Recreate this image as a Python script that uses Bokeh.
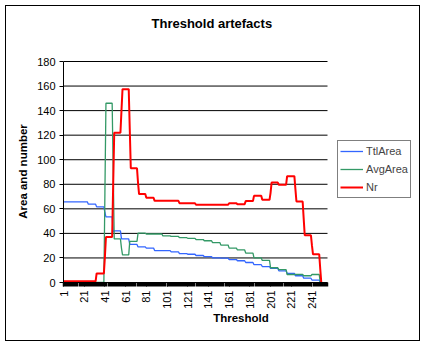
import math
from bokeh.plotting import figure
from bokeh.models import FixedTicker, Legend, LegendItem, Title, Range1d
from bokeh.embed import file_html
from bokeh.resources import INLINE

# Thresholds where each 8-wide step starts
block_start = [1, 9, 17, 25, 33, 41, 49, 57, 65, 73, 81, 89, 97, 105, 113, 121,
               129, 137, 145, 153, 161, 169, 177, 185, 193, 201, 209, 217, 225, 233, 241]
ttl_area = [65.7, 65.7, 65.7, 63.8, 61.6, 53.5, 42, 35.5, 31, 29, 28, 26, 26, 25, 23.5, 23,
            22, 21, 20, 19.8, 18.7, 17.7, 16.3, 14.5, 13, 11.5, 9.5, 7.5, 5.5, 3.5, 2]
avg_area = [0, 0, 0, 0, 0, 146, 35.5, 22.5, 33.5, 40.2, 39.5, 39.5, 38, 37.5, 36.5, 36,
            35, 34, 32.5, 30.5, 28, 26.5, 24, 20, 18, 12, 10.5, 6.5, 6.5, 5.5, 6.5]
nr = [1, 1, 1, 1, 7.4, 37, 122, 157.5, 93, 72, 69, 66.5, 66.5, 66.5, 64.6, 64.6,
      63.3, 63.3, 63.3, 63.3, 64.6, 63.8, 66.3, 70.6, 67.3, 81.4, 79.6, 86.6, 66, 38.5, 23]

# single-threshold transition values at the first threshold of a step
ttl_trans_at = [41, 49]
ttl_trans_val = [57, 41]
avg_trans_at = [41, 49, 57]
avg_trans_val = [73, 91, 28]
nr_trans_at = [41, 49, 57, 65, 73, 201, 225, 233, 241]
nr_trans_val = [21, 80, 140, 125, 81, 73, 76, 52, 30]

# tail values at thresholds 249, 250
tail_at = [249, 250]
ttl_tail = [0, 0]
avg_tail = [0, 0]
nr_tail = [11, 0]

x_tick_labels = ["1", "21", "41", "61", "81", "101", "121", "141", "161", "181", "201", "221", "241"]
y_ticks = [0, 20, 40, 60, 80, 100, 120, 140, 160, 180]
X_MIN, X_MAX = 1, 256      # category axis extent
Y_MIN, Y_MAX = 0, 180


def expand(blocks, t_at, t_val, tail):
    xs, ys = [], []
    for s, v in zip(block_start, blocks):
        for k in range(8):
            xs.append(s + k)
            ys.append(v)
    for a, v in zip(t_at, t_val):
        ys[xs.index(a)] = v
    xs += tail_at
    ys += tail
    return xs, ys


FONT = "Liberation Sans"
W, H = 425, 346
BL, BR, BT, BB = 63, 7, 60, 64
axis_px = 264.0  # pixel length of the category axis
frame_w = W - BL - BR
x_end = X_MIN + (X_MAX - X_MIN) * frame_w / axis_px
frame_h = H - BT - BB
y_end = Y_MAX * frame_h / 221.0

p = figure(width=W, height=H, x_range=Range1d(X_MIN, x_end), y_range=Range1d(Y_MIN, y_end),
           output_backend="svg", toolbar_location=None,
           min_border_left=BL, min_border_right=BR, min_border_top=BT, min_border_bottom=BB)
# transparent canvas so that the host's inset shadow (outer chart border) shows through
p.background_fill_color = None
p.border_fill_color = None
p.outline_line_color = None
border_css = {"background-color": "white",
              "box-shadow": "inset 0 0 0 5px white, inset 0 0 0 6px black"}
p.styles = border_css
p.stylesheets = [":host { background-color: white; "
                 "box-shadow: inset 0 0 0 5px white, inset 0 0 0 6px black; }"]

# spacer between title and plot, then the title itself
p.add_layout(Title(text=" ", text_font_size="21px", standoff=0), "above")
title = Title(text="Threshold artefacts", align="left", offset=88,
              text_font=FONT, text_font_size="13px", text_font_style="bold",
              text_color="black")
p.add_layout(title, "above")

# horizontal gridlines limited to the axis extent
p.segment(x0=[X_MIN] * len(y_ticks), y0=y_ticks, x1=[X_MAX] * len(y_ticks), y1=y_ticks,
          line_color="black", line_width=1)

xs, ys = expand(ttl_area, ttl_trans_at, ttl_trans_val, ttl_tail)
r1 = p.line(xs, ys, line_color="#3366ff", line_width=1.3)
xs, ys = expand(avg_area, avg_trans_at, avg_trans_val, avg_tail)
r2 = p.line(xs, ys, line_color="#339966", line_width=1.3)
xs, ys = expand(nr, nr_trans_at, nr_trans_val, nr_tail)
r3 = p.line(xs, ys, line_color="#ff0000", line_width=2)

p.xgrid.visible = False
p.ygrid.visible = False

label_pos = [int(t) for t in x_tick_labels]
p.xaxis.ticker = FixedTicker(ticks=label_pos, minor_ticks=list(range(X_MIN, X_MAX + 1)))
p.xaxis.bounds = (X_MIN, X_MAX)
p.xaxis.major_label_orientation = math.pi / 2
p.xaxis.major_tick_out = 4
p.xaxis.major_tick_in = 0
p.xaxis.minor_tick_out = 4
p.xaxis.minor_tick_in = 0
p.xaxis.minor_tick_line_width = 1.5
p.xaxis.minor_tick_line_color = "black"
p.xaxis.major_tick_line_color = "black"
p.xaxis.axis_label = "Threshold"

p.yaxis.ticker = FixedTicker(ticks=y_ticks)
p.yaxis.bounds = (Y_MIN, Y_MAX)
p.yaxis.major_tick_out = 4
p.yaxis.major_tick_in = 0
p.yaxis.minor_tick_line_color = None
p.yaxis.axis_label = "Area and number"

for ax in (p.xaxis[0], p.yaxis[0]):
    ax.axis_line_color = "black"
    ax.major_label_text_font = FONT
    ax.major_label_text_font_size = "11px"
    ax.major_label_text_color = "black"
    ax.major_label_standoff = 4
    ax.axis_label_text_font = FONT
    ax.axis_label_text_font_size = "11.5px"
    ax.axis_label_text_font_style = "bold"
    ax.axis_label_text_color = "black"
p.xaxis.axis_label_standoff = 0
p.yaxis.axis_label_standoff = 5

legend = Legend(items=[LegendItem(label="TtlArea", renderers=[r1]),
                       LegendItem(label="AvgArea", renderers=[r2]),
                       LegendItem(label="Nr", renderers=[r3])],
                location=(274, 84), orientation="vertical",
                border_line_color="black", border_line_width=1,
                background_fill_color="white", background_fill_alpha=1,
                label_text_font=FONT, label_text_font_size="11px",
                glyph_width=23, glyph_height=16, label_height=16,
                spacing=2, padding=2, margin=0, label_standoff=3)
p.add_layout(legend)

open("out.html", "w").write(file_html(p, INLINE))
